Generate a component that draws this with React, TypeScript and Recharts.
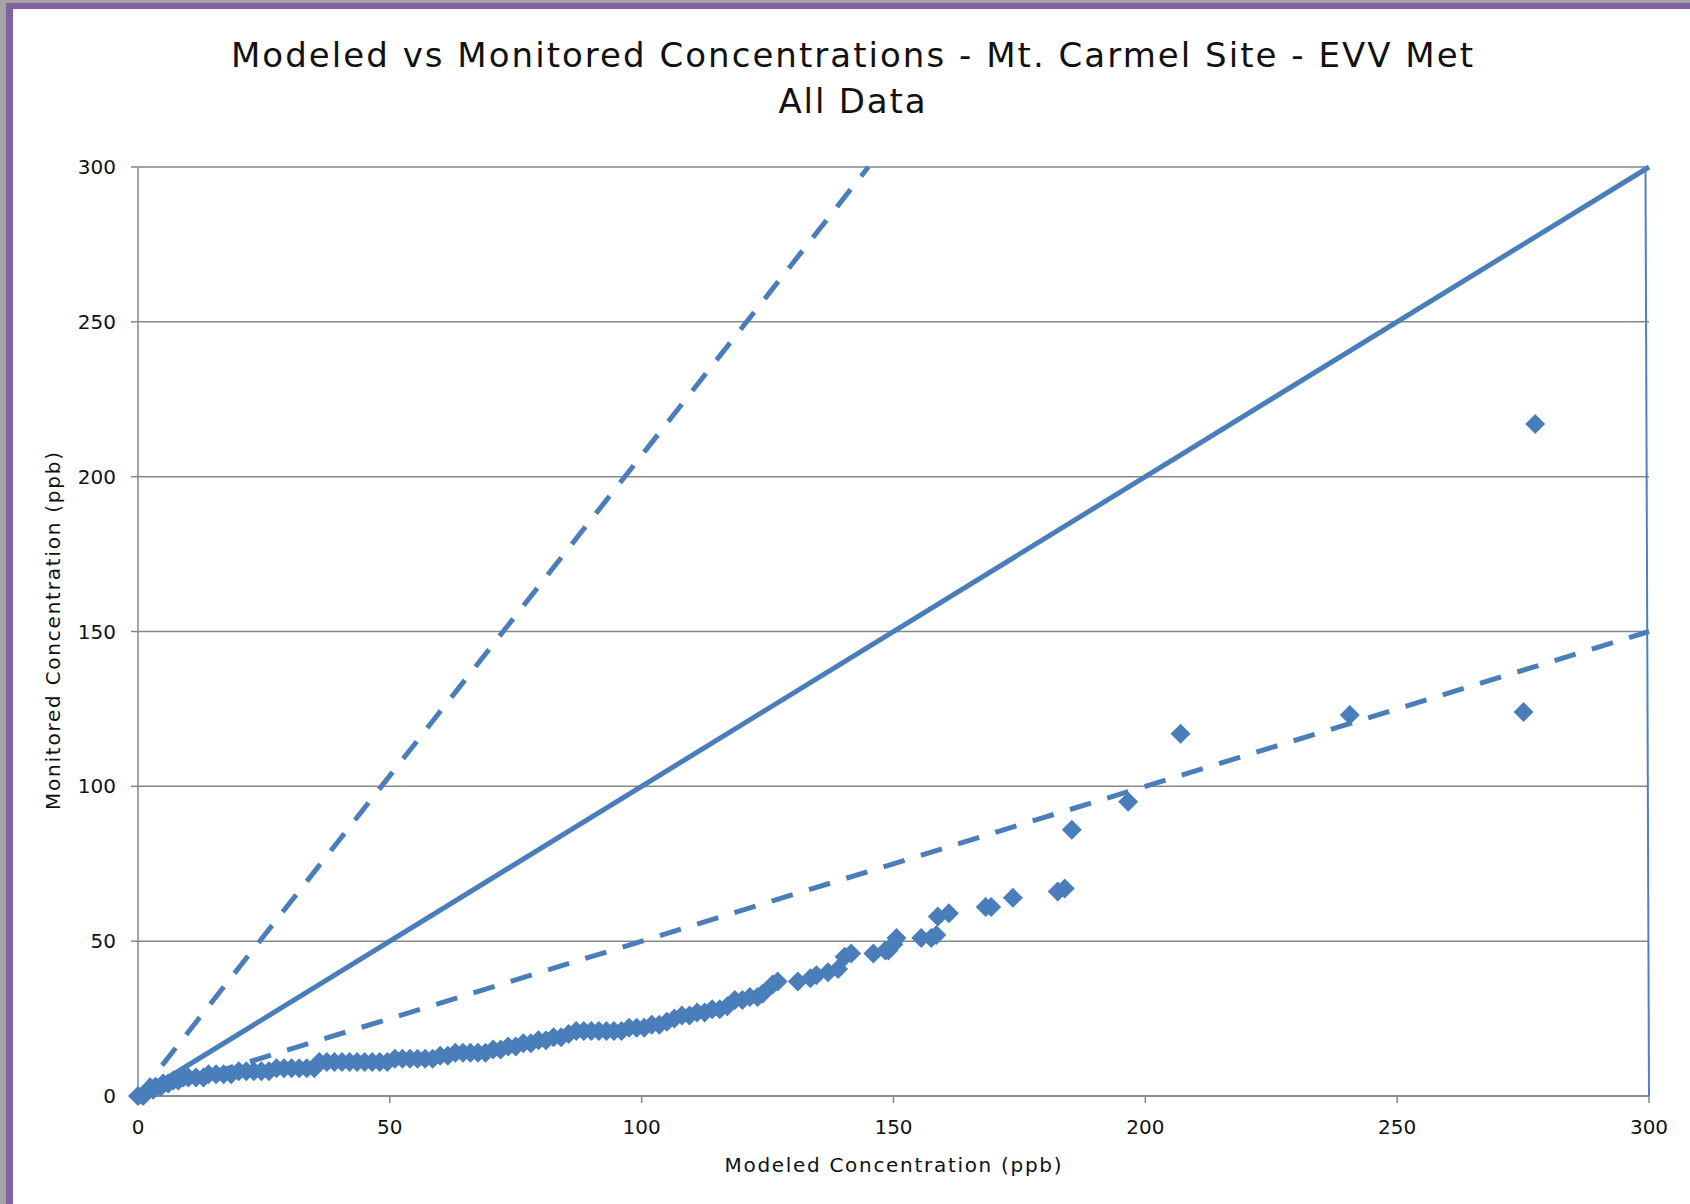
import { ScatterChart, Scatter, XAxis, YAxis, CartesianGrid } from "recharts";

const modeled = [
  0, 1, 1.5, 2, 3, 3.5, 4.5, 5, 6, 7, 8, 9, 10, 11.5, 13, 14, 15.5, 17, 18.5, 20,
  21.5, 23, 24.5, 26, 27.5, 29, 30.5, 32, 33.5, 35, 36, 37.5, 39, 40.5, 42, 43.5, 45, 46.5, 48, 49.5,
  51, 52.5, 54, 55.5, 57, 58.5, 60, 61.5, 63, 64.5, 66, 67.5, 69, 70.5, 72, 73.5, 75, 76.5, 78, 79.5,
  81, 82.5, 84, 85.5, 87, 88.5, 90, 91.5, 93, 94.5, 96, 97.5, 99, 100.5, 102, 103.5, 105, 106.5, 108, 109.5,
  111, 112.5, 114, 115.5, 117, 118.5, 120, 121.5, 123, 124, 126, 127, 131, 133.5, 134.7, 137, 139, 140.3, 141.6, 146,
  148.4, 149, 150, 150.6, 155.5, 157.5, 158.5, 158.8, 161, 168.3, 169.4, 173.7, 182.6, 184, 185.4, 196.6, 207, 240.6, 275.1, 277.4,
];
const monitored = [
  0, 0, 1, 2, 2, 3, 3, 4, 4, 5, 5, 6, 6, 6, 6, 7, 7, 7, 7, 8,
  8, 8, 8, 8, 9, 9, 9, 9, 9, 9, 11, 11, 11, 11, 11, 11, 11, 11, 11, 11,
  12, 12, 12, 12, 12, 12, 13, 13, 14, 14, 14, 14, 14, 15, 15, 16, 16, 17, 17, 18,
  18, 19, 19, 20, 21, 21, 21, 21, 21, 21, 21, 22, 22, 22, 23, 23, 24, 25, 26, 26,
  27, 27, 28, 28, 29, 31, 31, 32, 32, 33, 36, 37, 37, 38, 39, 40, 41, 45, 46, 46,
  47, 47, 49, 51, 51, 51, 52, 58, 59, 61, 61, 64, 66, 67, 86, 95, 117, 123, 124, 217,
];

// reference lines: 1:1, factor of two above and below, and the thin edge line
const oneToOneX = [0, 300];
const oneToOneY = [0, 300];
const factorTwoUpX = [0, 145];
const factorTwoUpY = [0, 300];
const factorTwoDownX = [0, 300];
const factorTwoDownY = [0, 150];
const edgeX = [299.3, 300];
const edgeY = [300, 0];

const ticks = [0, 50, 100, 150, 200, 250, 300];

const BLUE = "#4A7EBB";
const GRID = "#878787";
const FONT = "'DejaVu Sans', Verdana, sans-serif";

const toPoints = (xs: number[], ys: number[]) => xs.map((x, i) => ({ x, y: ys[i] }));

const points = toPoints(modeled, monitored);

const Diamond = (props: any) => {
  const { cx, cy } = props;
  const r = 10;
  return (
    <polygon
      points={`${cx},${cy - r} ${cx + r},${cy} ${cx},${cy + r} ${cx - r},${cy}`}
      fill={BLUE}
    />
  );
};

const NoMark = () => <g />;

const tickStyle = { fill: "#111", fontSize: 20, fontFamily: FONT };

const App = () => {
  return (
    <div style={{ position: "absolute", left: 0, top: 0, width: 1690, height: 1204, background: "#fff", overflow: "hidden" }}>
      {/* frame strips */}
      <div style={{ position: "absolute", left: 0, top: 0, width: 1690, height: 3, background: "#a3a3a3" }} />
      <div style={{ position: "absolute", left: 0, top: 3, width: 1690, height: 6, background: "#8064a2" }} />
      <div style={{ position: "absolute", left: 0, top: 0, width: 6, height: 1204, background: "#a3a3a3" }} />
      <div style={{ position: "absolute", left: 6, top: 3, width: 7, height: 1201, background: "#8064a2" }} />

      <div style={{ position: "absolute", left: 0, top: 0 }}>
        <ScatterChart width={1690} height={1204} margin={{ top: 167, right: 41, bottom: 48, left: 18 }}>
          <CartesianGrid vertical={false} stroke={GRID} strokeWidth={1.5} />
          <XAxis
            type="number"
            dataKey="x"
            domain={[0, 300]}
            ticks={ticks}
            height={60}
            stroke={GRID}
            strokeWidth={1.5}
            tickSize={7}
            tickMargin={17}
            tick={tickStyle}
          />
          <YAxis
            type="number"
            dataKey="y"
            domain={[0, 300]}
            ticks={ticks}
            width={120}
            stroke={GRID}
            strokeWidth={1.5}
            tickSize={7}
            tickMargin={15}
            tick={tickStyle}
          />
          <Scatter data={points} shape={Diamond} isAnimationActive={false} />
          <Scatter
            data={toPoints(oneToOneX, oneToOneY)}
            shape={NoMark}
            line={{ stroke: BLUE, strokeWidth: 5 }}
            isAnimationActive={false}
          />
          <Scatter
            data={toPoints(factorTwoUpX, factorTwoUpY)}
            shape={NoMark}
            line={{ stroke: BLUE, strokeWidth: 5, strokeDasharray: "22 17" }}
            isAnimationActive={false}
          />
          <Scatter
            data={toPoints(factorTwoDownX, factorTwoDownY)}
            shape={NoMark}
            line={{ stroke: BLUE, strokeWidth: 5, strokeDasharray: "22 17" }}
            isAnimationActive={false}
          />
          <Scatter
            data={toPoints(edgeX, edgeY)}
            shape={NoMark}
            line={{ stroke: "#4F81BD", strokeWidth: 2 }}
            isAnimationActive={false}
          />
        </ScatterChart>
      </div>

      {/* titles */}
      <svg width={1690} height={1204} style={{ position: "absolute", left: 0, top: 0, pointerEvents: "none" }}>
        <text x={852} y={67} textAnchor="middle" fontSize={34} fontFamily={FONT} fill="#111" textLength={1242} lengthAdjust="spacing">
          Modeled vs Monitored Concentrations - Mt. Carmel Site - EVV Met
        </text>
        <text x={852} y={113} textAnchor="middle" fontSize={34} fontFamily={FONT} fill="#111" textLength={147} lengthAdjust="spacing">
          All Data
        </text>
        <text x={893} y={1172} textAnchor="middle" fontSize={20} fontFamily={FONT} fill="#111" textLength={337} lengthAdjust="spacing">
          Modeled Concentration (ppb)
        </text>
        <text transform="translate(60,631) rotate(-90)" textAnchor="middle" fontSize={20} fontFamily={FONT} fill="#111" textLength={358} lengthAdjust="spacing">
          Monitored Concentration (ppb)
        </text>
      </svg>
    </div>
  );
};

export default App;
